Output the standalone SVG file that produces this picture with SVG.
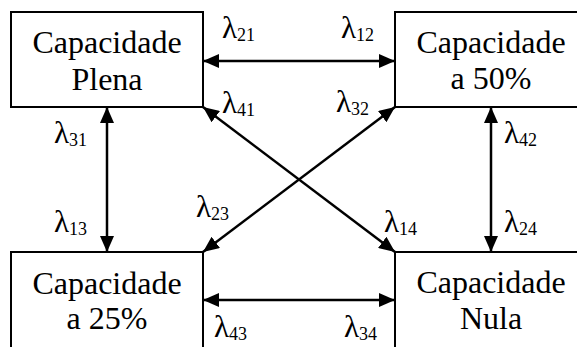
<svg xmlns="http://www.w3.org/2000/svg" width="577" height="347" viewBox="0 0 577 347">
<style>
.box{fill:#fff;stroke:#000;stroke-width:2}
.t{font-family:"Liberation Serif","Times New Roman",serif;font-size:32px;fill:#000;text-anchor:middle}
.l{font-family:"Liberation Serif","Times New Roman",serif;font-size:31px;fill:#000}
.s{font-size:18px}
.c{stroke:#000;stroke-width:2.5;fill:none;marker-start:url(#ah);marker-end:url(#ah)}
</style>
<defs>
<marker id="ah" viewBox="0 0 16 14" refX="16" refY="7" markerWidth="16" markerHeight="14" markerUnits="userSpaceOnUse" orient="auto-start-reverse">
<path d="M0,0 L16,7 L0,14 z" fill="#000"/>
</marker>
</defs>
<rect width="577" height="347" fill="#fff"/>
<g id="connectors">
<line class="c" x1="203" y1="61" x2="395" y2="61"/>
<line class="c" x1="203" y1="300" x2="395" y2="300"/>
<line class="c" x1="107" y1="107" x2="107" y2="252"/>
<line class="c" x1="491" y1="107" x2="491" y2="252"/>
<line class="c" x1="203" y1="107" x2="395" y2="252"/>
<line class="c" x1="395" y1="107" x2="203" y2="252"/>
</g>
<g id="plena">
<rect class="box" x="11" y="12" width="192" height="95"/>
<text class="t" x="107" y="53">Capacidade</text>
<text class="t" x="107" y="90">Plena</text>
</g>
<g id="c50">
<rect class="box" x="395" y="12" width="200" height="95"/>
<text class="t" x="491" y="53">Capacidade</text>
<text class="t" x="491" y="89">a 50%</text>
</g>
<g id="c25">
<rect class="box" x="11" y="252" width="192" height="110"/>
<text class="t" x="107" y="294">Capacidade</text>
<text class="t" x="107" y="329">a 25%</text>
</g>
<g id="nula">
<rect class="box" x="395" y="252" width="200" height="110"/>
<text class="t" x="491" y="293">Capacidade</text>
<text class="t" x="491" y="329">Nula</text>
</g>
<g id="labels">
<text class="l" x="222" y="38">λ<tspan class="s" dy="3">21</tspan></text>
<text class="l" x="341" y="38">λ<tspan class="s" dy="3">12</tspan></text>
<text class="l" x="222" y="113">λ<tspan class="s" dy="3">41</tspan></text>
<text class="l" x="336" y="112">λ<tspan class="s" dy="3">32</tspan></text>
<text class="l" x="54" y="143">λ<tspan class="s" dy="3">31</tspan></text>
<text class="l" x="504" y="143">λ<tspan class="s" dy="3">42</tspan></text>
<text class="l" x="54" y="232">λ<tspan class="s" dy="3">13</tspan></text>
<text class="l" x="196" y="217">λ<tspan class="s" dy="3">23</tspan></text>
<text class="l" x="384" y="232">λ<tspan class="s" dy="3">14</tspan></text>
<text class="l" x="504" y="232">λ<tspan class="s" dy="3">24</tspan></text>
<text class="l" x="214" y="337">λ<tspan class="s" dy="3">43</tspan></text>
<text class="l" x="344" y="337">λ<tspan class="s" dy="3">34</tspan></text>
</g>
</svg>
